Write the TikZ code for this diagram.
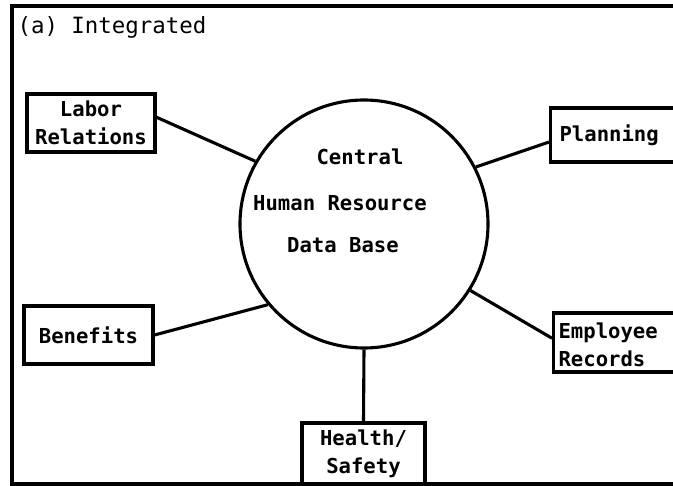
\documentclass[tikz,border=0pt]{standalone}
\usepackage{fontspec}
\newfontfamily\dotfont{DejaVu Sans Mono}
\begin{document}
\begin{tikzpicture}[x=1pt,y=-1pt,line width=3.1pt,
		font=\dotfont\bfseries\fontsize{20.6}{28}\selectfont,
		hrbox/.style={draw,inner sep=0pt,align=center},
		hrtext/.style={inner sep=0pt}]
			\def\W{673} \def\H{486}
			\useasboundingbox (0,0) rectangle (\W,\H);
			\clip (0,0) rectangle (\W,\H);
			%===========================================
			\draw (\W+5,6) -| (12,484) -- (\W+5,484);
			\node[hrtext,anchor=west,font=\dotfont\fontsize{22.4}{26}\selectfont] (title) at (16,27) {(a) Integrated};
			%===========================================
			\node[draw,circle,minimum size=248pt,inner sep=0pt] (hrdb) at (364,224) {};
			\node[hrtext] (central) at (360,157) {Central};
			\node[hrtext] (human) at (340,203) {Human Resource};
			\node[hrtext] (database) at (343,245) {Data Base};
			%===========================================
			\node[hrbox,minimum width=128pt,minimum height=58pt] (labor) at (91,123) {Labor\\Relations};
			\node[hrbox,minimum width=129pt,minimum height=58pt] (ben) at (88.5,335) {Benefits};
			\node[hrbox,minimum width=123pt,minimum height=61pt] (health) at (363.5,453.5) {Health/\\Safety};
			\node[hrbox,anchor=west,inner xsep=9pt,text width=140pt,align=left,minimum height=54pt] (plan) at (549,135) {Planning};
			\node[draw,anchor=west,minimum width=160pt,minimum height=59pt,inner sep=0pt] (emp) at (552,342.5) {};
			\node[hrtext,anchor=south west,align=left] (emptext) at (557,368) {Employee\\Records};
			%===========================================
			\draw (labor.5) -- (hrdb.150);
			\draw (plan.185) -- (hrdb.27);
			\draw (emp.177) -- (hrdb.-32);
			\draw (ben.east) -- (hrdb.220);
			\draw (hrdb.south) -- (health.north);
	\end{tikzpicture}
\end{document}
